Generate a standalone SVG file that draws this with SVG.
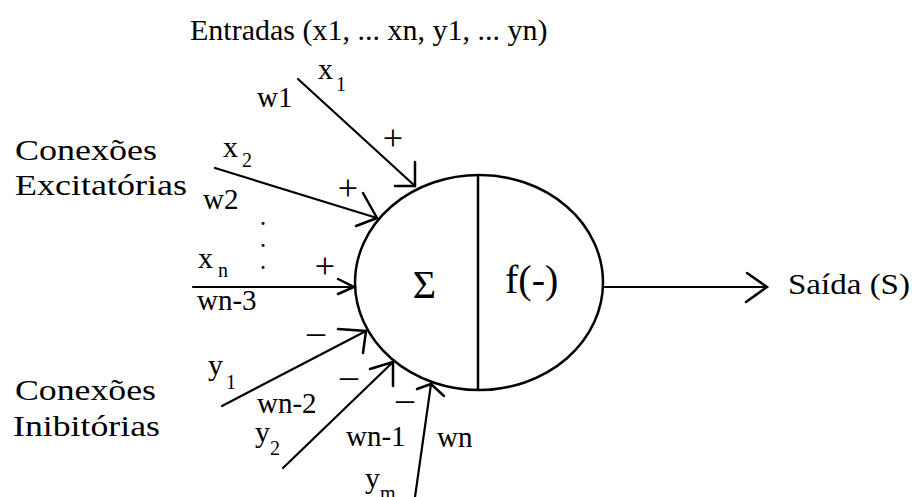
<svg xmlns="http://www.w3.org/2000/svg" width="914" height="497" viewBox="0 0 914 497" font-family="'Liberation Serif', 'DejaVu Serif', serif">
<style>
text{font-family:'Liberation Serif','DejaVu Serif',serif;fill:#000}
.lbl{font-size:30px}
.w{font-size:29px}
.sub{font-size:20px}
.sg{font-size:36px}
.dash{font-size:36px}
.dot{font-size:18px;font-weight:bold}
.big{font-size:40px}
.ln{stroke:#000;stroke-width:2.2;fill:none;stroke-linecap:round;stroke-linejoin:round}
.ah{stroke:#000;stroke-width:2.5;fill:none;stroke-linecap:round;stroke-linejoin:miter}
</style>
<rect width="914" height="497" fill="#fff"/>
<g id="title"><text class="lbl" x="190" y="40" font-size="27">Entradas (x1, ... xn, y1, ... yn)</text></g>
<g id="exc-label"><text class="lbl" x="15" y="160" font-size="28" textLength="142" lengthAdjust="spacingAndGlyphs">Conexões</text><text class="lbl" x="15" y="195" font-size="28" textLength="172" lengthAdjust="spacingAndGlyphs">Excitatórias</text></g>
<g id="inh-label"><text class="lbl" x="15" y="400" font-size="28" textLength="141" lengthAdjust="spacingAndGlyphs">Conexões</text><text class="lbl" x="13" y="436" font-size="28" textLength="147" lengthAdjust="spacingAndGlyphs">Inibitórias</text></g>
<g id="neuron">
<ellipse cx="479" cy="282.5" rx="124" ry="107.5" fill="#fff" stroke="#000" stroke-width="2.5"/>
<line x1="478" y1="175" x2="478" y2="390" stroke="#000" stroke-width="2.5"/>
<text class="big" x="424.5" y="298" text-anchor="middle">Σ</text>
<text class="big" x="505" y="293">f(-)</text>
</g>
<g id="connectors">
<path class="ln" d="M298,79 L415,186"/><path class="ah" d="M415,162 L415,186 L395,186"/>
<path class="ln" d="M215,168 L377,218"/><path class="ah" d="M363,193 L377,218 L356,226"/>
<path class="ln" d="M193,287 L354,287"/><path class="ah" d="M338,279 L354,287 L338,294"/>
<path class="ln" d="M222,406 L366,331"/><path class="ah" d="M338,329 L366,331 L363,353"/>
<path class="ln" d="M283,468 L393,362"/><path class="ah" d="M370,369 L393,362 L393,386"/>
<path class="ln" d="M415,497 L431,384"/><path class="ah" d="M417,389 L431,384 L444,396"/>
<path class="ln" d="M603,287 L767,287"/><path class="ah" d="M747,273 L767,287 L746,302"/>
</g>
<g id="in-x1"><text class="lbl" x="318" y="79">x</text><text class="sub" x="336" y="91">1</text><text class="w" x="257" y="107">w1</text><text class="sg" x="393" y="150" text-anchor="middle">+</text></g>
<g id="in-x2"><text class="lbl" x="223" y="157">x</text><text class="sub" x="242" y="167">2</text><text class="w" x="203" y="209">w2</text><text class="sg" x="348" y="200" text-anchor="middle">+</text></g>
<g id="dots"><text class="dot" x="263" y="225" text-anchor="middle">.</text><text class="dot" x="263" y="247" text-anchor="middle">.</text><text class="dot" x="263" y="269" text-anchor="middle">.</text></g>
<g id="in-xn"><text class="lbl" x="198" y="268">x</text><text class="sub" x="218" y="277">n</text><text class="w" x="197" y="310">wn-3</text><text class="sg" x="325" y="278" text-anchor="middle">+</text></g>
<g id="in-y1"><text class="lbl" x="208" y="375">y</text><text class="sub" x="226" y="389">1</text><text class="w" x="257" y="413">wn-2</text><text class="dash" x="316" y="344" text-anchor="middle">–</text></g>
<g id="in-y2"><text class="lbl" x="255" y="442" font-size="29">y</text><text class="sub" x="270" y="455">2</text><text class="w" x="346" y="446">wn-1</text><text class="dash" x="349" y="388" text-anchor="middle">–</text></g>
<g id="in-ym"><text class="lbl" x="365" y="488">y</text><text class="sub" x="380" y="500">m</text><text class="w" x="437" y="447">wn</text><text class="dash" x="405" y="411" text-anchor="middle">–</text></g>
<g id="output"><text class="lbl" x="788" y="294" textLength="122" lengthAdjust="spacingAndGlyphs">Saída (S)</text></g>
</svg>
